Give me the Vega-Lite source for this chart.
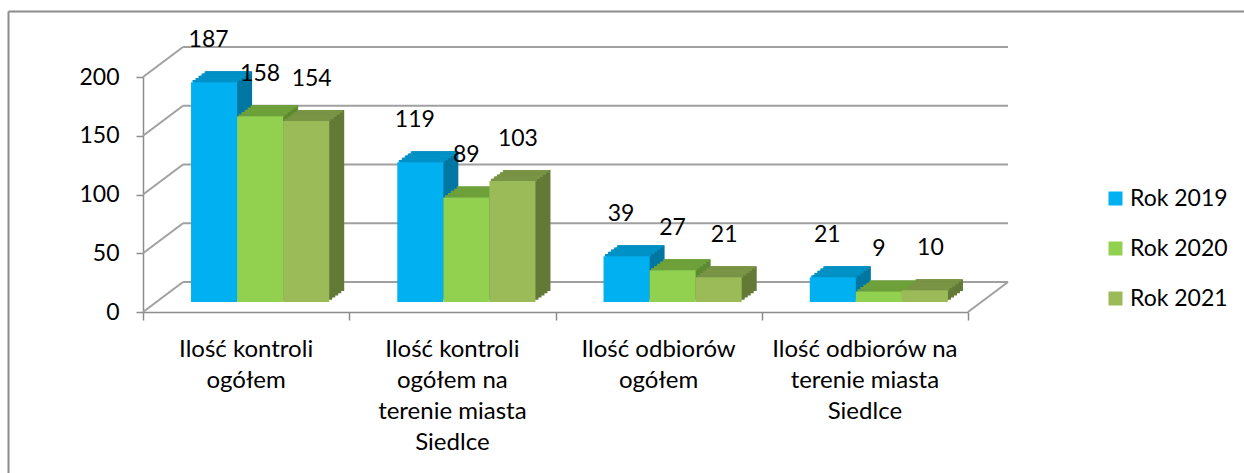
{
  "$schema": "https://vega.github.io/schema/vega-lite/v6.json",
  "width": 1236,
  "height": 462,
  "autosize": "none",
  "padding": {"left": 8, "top": 11, "right": 0, "bottom": 0},
  "background": "#ffffff",
  "config": {"view": {"stroke": null}, "font": "Lato"},
  "datasets": {
    "bars": [
      {"cat": "Ilość kontroli ogółem", "series": "Rok 2019", "value": 187},
      {"cat": "Ilość kontroli ogółem", "series": "Rok 2020", "value": 158},
      {"cat": "Ilość kontroli ogółem", "series": "Rok 2021", "value": 154},
      {"cat": "Ilość kontroli ogółem na terenie miasta Siedlce", "series": "Rok 2019", "value": 119},
      {"cat": "Ilość kontroli ogółem na terenie miasta Siedlce", "series": "Rok 2020", "value": 89},
      {"cat": "Ilość kontroli ogółem na terenie miasta Siedlce", "series": "Rok 2021", "value": 103},
      {"cat": "Ilość odbiorów ogółem", "series": "Rok 2019", "value": 39},
      {"cat": "Ilość odbiorów ogółem", "series": "Rok 2020", "value": 27},
      {"cat": "Ilość odbiorów ogółem", "series": "Rok 2021", "value": 21},
      {"cat": "Ilość odbiorów na terenie miasta Siedlce", "series": "Rok 2019", "value": 21},
      {"cat": "Ilość odbiorów na terenie miasta Siedlce", "series": "Rok 2020", "value": 9},
      {"cat": "Ilość odbiorów na terenie miasta Siedlce", "series": "Rok 2021", "value": 10}
    ],
    "grid": [{"v": 0}, {"v": 50}, {"v": 100}, {"v": 150}, {"v": 200}],
    "diag": [{"v": 0, "xq": 0}, {"v": 50, "xq": 0}, {"v": 100, "xq": 0}, {"v": 150, "xq": 0}, {"v": 200, "xq": 0}, {"v": 0, "xq": 1}],
    "frame": [{"f": 0}]
  },
  "layer": [
    {
      "data": {"name": "frame"},
      "mark": {"type": "point", "opacity": 0},
      "encoding": {
        "x": {"field": "f", "type": "quantitative", "scale": {"domain": [0, 1], "range": [0, 1236], "nice": false}, "axis": {"orient": "top", "offset": 0, "domain": true, "domainColor": "#8c8c8c", "domainWidth": 2, "ticks": false, "labels": false, "grid": false, "title": null}},
        "y": {"field": "f", "type": "quantitative", "scale": {"domain": [0, 1], "range": [462, 0], "nice": false}, "axis": {"orient": "left", "offset": 0, "domain": true, "domainColor": "#8c8c8c", "domainWidth": 2, "ticks": false, "labels": false, "grid": false, "title": null}}
      }
    },
    {
      "data": {"name": "grid"},
      "mark": {"type": "rule", "color": "#a0a0a0", "strokeWidth": 2, "xOffset": 40, "x2Offset": 40, "yOffset": -30},
      "encoding": {
        "x": {"datum": 0, "type": "quantitative", "scale": {"domain": [0, 1], "range": [135, 960], "nice": false}, "axis": null},
        "x2": {"datum": 1},
        "y": {"field": "v", "type": "quantitative", "scale": {"domain": [0, 200], "range": [301, 66], "nice": false}, "axis": null}
      }
    },
    {
      "data": {"name": "diag"},
      "mark": {"type": "rule", "color": "#a0a0a0", "strokeWidth": 2, "x2Offset": 40, "y2Offset": -30},
      "encoding": {
        "x": {"field": "xq", "type": "quantitative", "scale": {"domain": [0, 1], "range": [135, 960], "nice": false}, "axis": {"orient": "bottom", "offset": -161, "values": [0, 0.25, 0.5, 0.75, 1], "labels": false, "domain": true, "domainColor": "#8c8c8c", "domainWidth": 1.5, "ticks": true, "tickSize": 8, "tickColor": "#8c8c8c", "tickWidth": 1.5, "grid": false, "title": null}},
        "x2": {"field": "xq"},
        "y": {"field": "v", "type": "quantitative", "scale": {"domain": [0, 200], "range": [301, 66], "nice": false}, "axis": {"orient": "left", "offset": -135, "values": [0, 50, 100, 150, 200], "domain": true, "domainColor": "#8c8c8c", "domainWidth": 1.5, "ticks": true, "tickSize": 7, "tickColor": "#8c8c8c", "tickWidth": 1.5, "labelFontSize": 23, "labelFont": "Lato", "labelColor": "#000000", "labelPadding": 17, "grid": false, "title": null}},
        "y2": {"field": "v"}
      }
    },
    {
      "data": {"name": "bars"},
      "layer": [
        {
          "mark": {"type": "bar", "yOffset": -12.2, "y2Offset": -12.2},
          "encoding": {
            "x": {"field": "cat", "type": "nominal", "scale": {"domain": ["Ilość kontroli ogółem", "Ilość kontroli ogółem na terenie miasta Siedlce", "Ilość odbiorów ogółem", "Ilość odbiorów na terenie miasta Siedlce"], "range": [135, 960], "paddingInner": 0, "paddingOuter": 0}},
            "xOffset": {"field": "series", "type": "nominal", "scale": {"range": [17, 223.25], "paddingInner": 0, "paddingOuter": 0.739}},
            "y": {"field": "value", "type": "quantitative", "scale": {"domain": [0, 200], "range": [301, 66], "nice": false}, "axis": null},
            "color": {"field": "series", "type": "nominal", "scale": {"range": ["#0077A3", "#5C8A30", "#637A37"]}, "legend": null}
          }
        },
        {
          "mark": {"type": "bar", "yOffset": -14.4, "y2Offset": -14.4},
          "encoding": {
            "x": {"field": "cat", "type": "nominal"},
            "xOffset": {"field": "series", "type": "nominal", "scale": {"range": [20, 226.25], "paddingInner": 0, "paddingOuter": 0.739}},
            "y": {"field": "value", "type": "quantitative", "axis": null},
            "color": {"field": "series", "type": "nominal", "scale": {"range": ["#0077A3", "#5C8A30", "#637A37"]}, "legend": null}
          }
        },
        {
          "mark": {"type": "bar", "yOffset": -16.6, "y2Offset": -16.6},
          "encoding": {
            "x": {"field": "cat", "type": "nominal"},
            "xOffset": {"field": "series", "type": "nominal", "scale": {"range": [23, 229.25], "paddingInner": 0, "paddingOuter": 0.739}},
            "y": {"field": "value", "type": "quantitative", "axis": null},
            "color": {"field": "series", "type": "nominal", "scale": {"range": ["#0077A3", "#5C8A30", "#637A37"]}, "legend": null}
          }
        },
        {
          "mark": {"type": "bar", "yOffset": -18.8, "y2Offset": -18.8},
          "encoding": {
            "x": {"field": "cat", "type": "nominal"},
            "xOffset": {"field": "series", "type": "nominal", "scale": {"range": [26, 232.25], "paddingInner": 0, "paddingOuter": 0.739}},
            "y": {"field": "value", "type": "quantitative", "axis": null},
            "color": {"field": "series", "type": "nominal", "scale": {"range": ["#0077A3", "#5C8A30", "#637A37"]}, "legend": null}
          }
        },
        {
          "mark": {"type": "bar", "yOffset": -21, "y2Offset": -21},
          "encoding": {
            "x": {"field": "cat", "type": "nominal"},
            "xOffset": {"field": "series", "type": "nominal", "scale": {"range": [29, 235.25], "paddingInner": 0, "paddingOuter": 0.739}},
            "y": {"field": "value", "type": "quantitative", "axis": null},
            "color": {"field": "series", "type": "nominal", "scale": {"range": ["#0077A3", "#5C8A30", "#637A37"]}, "legend": null}
          }
        },
        {
          "mark": {"type": "bar", "yOffset": -12.2, "y2Offset": -9.7},
          "encoding": {
            "x": {"field": "cat", "type": "nominal"},
            "xOffset": {"field": "series", "type": "nominal", "scale": {"range": [15.5, 221.75], "paddingInner": 0, "paddingOuter": 0.739}},
            "y": {"field": "value", "type": "quantitative", "axis": null},
            "y2": {"field": "value"},
            "color": {"field": "series", "type": "nominal", "scale": {"range": ["#0092C6", "#6EA13A", "#7A9446"]}, "legend": null}
          }
        },
        {
          "mark": {"type": "bar", "yOffset": -14.4, "y2Offset": -11.9},
          "encoding": {
            "x": {"field": "cat", "type": "nominal"},
            "xOffset": {"field": "series", "type": "nominal", "scale": {"range": [18.5, 224.75], "paddingInner": 0, "paddingOuter": 0.739}},
            "y": {"field": "value", "type": "quantitative", "axis": null},
            "y2": {"field": "value"},
            "color": {"field": "series", "type": "nominal", "scale": {"range": ["#0092C6", "#6EA13A", "#7A9446"]}, "legend": null}
          }
        },
        {
          "mark": {"type": "bar", "yOffset": -16.6, "y2Offset": -14.1},
          "encoding": {
            "x": {"field": "cat", "type": "nominal"},
            "xOffset": {"field": "series", "type": "nominal", "scale": {"range": [21.5, 227.75], "paddingInner": 0, "paddingOuter": 0.739}},
            "y": {"field": "value", "type": "quantitative", "axis": null},
            "y2": {"field": "value"},
            "color": {"field": "series", "type": "nominal", "scale": {"range": ["#0092C6", "#6EA13A", "#7A9446"]}, "legend": null}
          }
        },
        {
          "mark": {"type": "bar", "yOffset": -18.8, "y2Offset": -16.3},
          "encoding": {
            "x": {"field": "cat", "type": "nominal"},
            "xOffset": {"field": "series", "type": "nominal", "scale": {"range": [24.5, 230.75], "paddingInner": 0, "paddingOuter": 0.739}},
            "y": {"field": "value", "type": "quantitative", "axis": null},
            "y2": {"field": "value"},
            "color": {"field": "series", "type": "nominal", "scale": {"range": ["#0092C6", "#6EA13A", "#7A9446"]}, "legend": null}
          }
        },
        {
          "mark": {"type": "bar", "yOffset": -21, "y2Offset": -18.5},
          "encoding": {
            "x": {"field": "cat", "type": "nominal"},
            "xOffset": {"field": "series", "type": "nominal", "scale": {"range": [27.5, 233.75], "paddingInner": 0, "paddingOuter": 0.739}},
            "y": {"field": "value", "type": "quantitative", "axis": null},
            "y2": {"field": "value"},
            "color": {"field": "series", "type": "nominal", "scale": {"range": ["#0092C6", "#6EA13A", "#7A9446"]}, "legend": null}
          }
        },
        {
          "mark": {"type": "bar", "yOffset": -10, "y2Offset": -10},
          "encoding": {
            "x": {"field": "cat", "type": "nominal", "axis": {"orient": "bottom", "offset": -161, "domain": false, "ticks": false, "grid": false, "labelAngle": 0, "labelAlign": "center", "labelFontSize": 24, "labelFont": "Lato", "labelColor": "#000000", "labelLineHeight": 31, "labelPadding": 25, "labelBaseline": "top", "labelLimit": 0, "labelOverlap": false, "title": null, "labelExpr": "datum.value == 'Ilość kontroli ogółem' ? ['Ilość kontroli', 'ogółem'] : datum.value == 'Ilość kontroli ogółem na terenie miasta Siedlce' ? ['Ilość kontroli', 'ogółem na', 'terenie miasta', 'Siedlce'] : datum.value == 'Ilość odbiorów ogółem' ? ['Ilość odbiorów', 'ogółem'] : ['Ilość odbiorów na', 'terenie miasta', 'Siedlce']"}},
            "xOffset": {"field": "series", "type": "nominal", "scale": {"range": [14, 220.25], "paddingInner": 0, "paddingOuter": 0.739}},
            "y": {"field": "value", "type": "quantitative", "axis": null},
            "color": {"field": "series", "type": "nominal", "scale": {"range": ["#00B0F0", "#92D050", "#9BBB59"]}, "legend": {"orient": "none", "legendX": 1096, "legendY": 176, "title": null, "symbolType": "square", "symbolSize": 196, "symbolStrokeWidth": 0, "labelFontSize": 23, "labelFont": "Lato", "labelColor": "#000000", "rowPadding": 26, "labelOffset": 3, "padding": 0}}
          }
        },
        {
          "mark": {"type": "text", "baseline": "bottom", "dy": -40, "fontSize": 23, "font": "Lato", "color": "#000000"},
          "encoding": {
            "x": {"field": "cat", "type": "nominal"},
            "xOffset": {"field": "series", "type": "nominal", "scale": {"type": "point", "range": [14, 220.25], "padding": 1.2375}},
            "y": {"field": "value", "type": "quantitative", "axis": null},
            "text": {"field": "value", "type": "quantitative"}
          }
        }
      ],
      "resolve": {"scale": {"xOffset": "independent", "color": "independent"}}
    }
  ],
  "resolve": {"scale": {"x": "independent", "y": "independent", "color": "independent", "xOffset": "independent"}}
}
